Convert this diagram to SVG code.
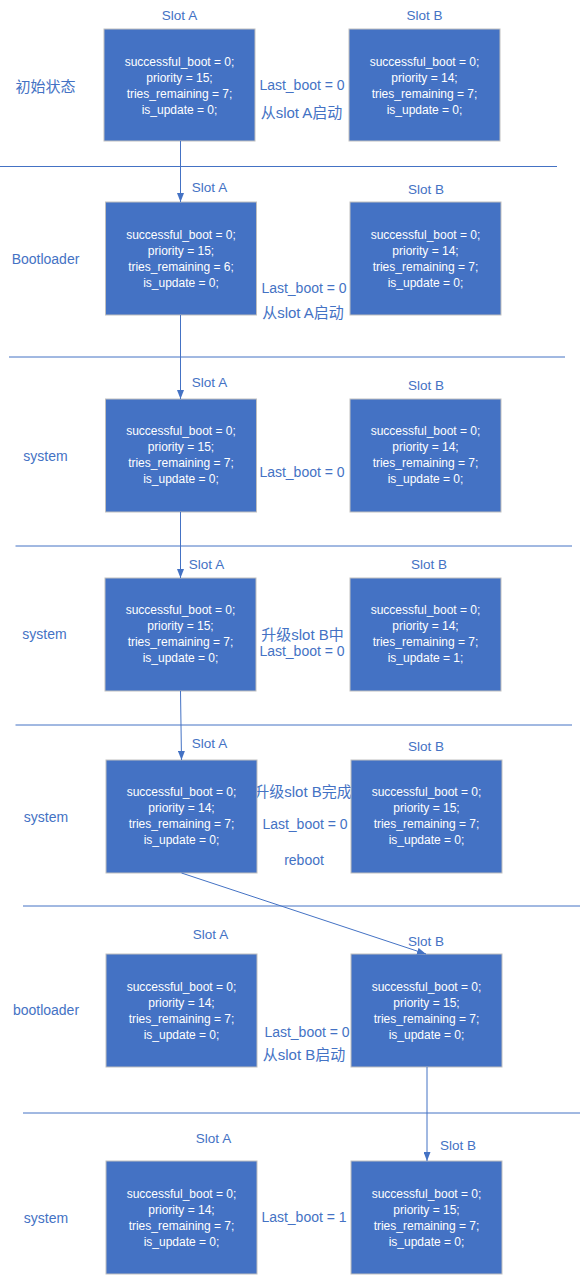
<svg xmlns="http://www.w3.org/2000/svg" width="581" height="1276" viewBox="0 0 581 1276">
<style>
.box{fill:#4472C4;stroke:#BFBFBF;stroke-width:1}
.b{font-family:"Liberation Sans",Arial,sans-serif;font-size:12px;fill:#ffffff;text-anchor:middle;dominant-baseline:central}
.s{font-family:"Liberation Sans",Arial,sans-serif;font-size:13.5px;fill:#4472C4;text-anchor:middle;dominant-baseline:central}
.l{font-family:"Liberation Sans",Arial,sans-serif;font-size:14px;fill:#4472C4;text-anchor:middle;dominant-baseline:central}
.c{font-family:"Liberation Sans","Noto Sans CJK SC",sans-serif;font-size:15px;fill:#4472C4;text-anchor:middle;dominant-baseline:central}
.div{stroke:#4472C4;stroke-width:1;fill:none}
.con{stroke:#4472C4;stroke-width:1;fill:none;marker-end:url(#arr)}
</style>
<defs>
<marker id="arr" markerUnits="userSpaceOnUse" markerWidth="9" markerHeight="7" refX="9" refY="3.5" orient="auto">
<path d="M0,0 L9,3.5 L0,7 z" fill="#4472C4"/>
</marker>
</defs>
<rect width="581" height="1276" fill="#ffffff"/>
<g id="dividers">
<line class="div" x1="0" y1="166.5" x2="557" y2="166.5"/>
<line class="div" x1="9" y1="357" x2="565" y2="357"/>
<line class="div" x1="15.5" y1="546" x2="572" y2="546"/>
<line class="div" x1="15.5" y1="725" x2="572" y2="725"/>
<line class="div" x1="23" y1="906" x2="580" y2="906"/>
<line class="div" x1="23" y1="1113" x2="580" y2="1113"/>
</g>
<g id="row-labels">
<text class="c" x="45.5" y="86">初始状态</text>
<text class="l" x="45.5" y="259">Bootloader</text>
<text class="l" x="45.5" y="456">system</text>
<text class="l" x="44.5" y="634">system</text>
<text class="l" x="46" y="817">system</text>
<text class="l" x="46" y="1010">bootloader</text>
<text class="l" x="46" y="1218">system</text>
</g>
<g id="mid-labels">
<text class="l" x="302" y="85">Last_boot = 0</text>
<text class="c" x="301.5" y="112">从slot A启动</text>
<text class="l" x="304" y="288">Last_boot = 0</text>
<text class="c" x="303" y="312">从slot A启动</text>
<text class="l" x="302" y="472">Last_boot = 0</text>
<text class="c" x="302.5" y="634">升级slot B中</text>
<text class="l" x="302" y="651">Last_boot = 0</text>
<text class="c" x="303" y="791">升级slot B完成</text>
<text class="l" x="305" y="824">Last_boot = 0</text>
<text class="l" x="304" y="860">reboot</text>
<text class="l" x="307" y="1032">Last_boot = 0</text>
<text class="c" x="304" y="1054">从slot B启动</text>
<text class="l" x="304" y="1217">Last_boot = 1</text>
</g>
<g id="slot-labels">
<text class="s" x="179.5" y="15">Slot A</text>
<text class="s" x="424.5" y="15">Slot B</text>
<text class="s" x="209.5" y="187">Slot A</text>
<text class="s" x="426" y="189">Slot B</text>
<text class="s" x="209.5" y="382">Slot A</text>
<text class="s" x="426" y="385">Slot B</text>
<text class="s" x="206.5" y="564">Slot A</text>
<text class="s" x="429" y="564">Slot B</text>
<text class="s" x="209.5" y="743">Slot A</text>
<text class="s" x="426" y="746">Slot B</text>
<text class="s" x="210.5" y="934">Slot A</text>
<text class="s" x="426" y="941">Slot B</text>
<text class="s" x="213.5" y="1138">Slot A</text>
<text class="s" x="458" y="1145">Slot B</text>
</g>
<g id="r1a">
<rect class="box" x="104" y="29" width="151" height="112"/>
<text class="b" x="179.5" y="61.5">successful_boot = 0;</text>
<text class="b" x="179.5" y="77.5">priority = 15;</text>
<text class="b" x="179.5" y="93.5">tries_remaining = 7;</text>
<text class="b" x="179.5" y="109.5">is_update = 0;</text>
</g>
<g id="r1b">
<rect class="box" x="349" y="29" width="151" height="112"/>
<text class="b" x="424.5" y="61.5">successful_boot = 0;</text>
<text class="b" x="424.5" y="77.5">priority = 14;</text>
<text class="b" x="424.5" y="93.5">tries_remaining = 7;</text>
<text class="b" x="424.5" y="109.5">is_update = 0;</text>
</g>
<g id="r2a">
<rect class="box" x="105.5" y="202" width="151" height="113"/>
<text class="b" x="181" y="235">successful_boot = 0;</text>
<text class="b" x="181" y="251">priority = 15;</text>
<text class="b" x="181" y="267">tries_remaining = 6;</text>
<text class="b" x="181" y="283">is_update = 0;</text>
</g>
<g id="r2b">
<rect class="box" x="350" y="202" width="151" height="113"/>
<text class="b" x="425.5" y="235">successful_boot = 0;</text>
<text class="b" x="425.5" y="251">priority = 14;</text>
<text class="b" x="425.5" y="267">tries_remaining = 7;</text>
<text class="b" x="425.5" y="283">is_update = 0;</text>
</g>
<g id="r3a">
<rect class="box" x="105.5" y="399" width="151" height="113"/>
<text class="b" x="181" y="431">successful_boot = 0;</text>
<text class="b" x="181" y="447">priority = 15;</text>
<text class="b" x="181" y="463">tries_remaining = 7;</text>
<text class="b" x="181" y="479">is_update = 0;</text>
</g>
<g id="r3b">
<rect class="box" x="350" y="399" width="151" height="113"/>
<text class="b" x="425.5" y="431">successful_boot = 0;</text>
<text class="b" x="425.5" y="447">priority = 14;</text>
<text class="b" x="425.5" y="463">tries_remaining = 7;</text>
<text class="b" x="425.5" y="479">is_update = 0;</text>
</g>
<g id="r4a">
<rect class="box" x="105" y="578" width="151" height="113"/>
<text class="b" x="180.5" y="610">successful_boot = 0;</text>
<text class="b" x="180.5" y="626">priority = 15;</text>
<text class="b" x="180.5" y="642">tries_remaining = 7;</text>
<text class="b" x="180.5" y="658">is_update = 0;</text>
</g>
<g id="r4b">
<rect class="box" x="350" y="578" width="151" height="113"/>
<text class="b" x="425.5" y="610">successful_boot = 0;</text>
<text class="b" x="425.5" y="626">priority = 14;</text>
<text class="b" x="425.5" y="642">tries_remaining = 7;</text>
<text class="b" x="425.5" y="658">is_update = 1;</text>
</g>
<g id="r5a">
<rect class="box" x="106" y="760" width="151" height="113"/>
<text class="b" x="181.5" y="792">successful_boot = 0;</text>
<text class="b" x="181.5" y="808">priority = 14;</text>
<text class="b" x="181.5" y="824">tries_remaining = 7;</text>
<text class="b" x="181.5" y="840">is_update = 0;</text>
</g>
<g id="r5b">
<rect class="box" x="351" y="760" width="151" height="113"/>
<text class="b" x="426.5" y="792">successful_boot = 0;</text>
<text class="b" x="426.5" y="808">priority = 15;</text>
<text class="b" x="426.5" y="824">tries_remaining = 7;</text>
<text class="b" x="426.5" y="840">is_update = 0;</text>
</g>
<g id="r6a">
<rect class="box" x="106" y="954" width="151" height="113"/>
<text class="b" x="181.5" y="987">successful_boot = 0;</text>
<text class="b" x="181.5" y="1003">priority = 14;</text>
<text class="b" x="181.5" y="1019">tries_remaining = 7;</text>
<text class="b" x="181.5" y="1035">is_update = 0;</text>
</g>
<g id="r6b">
<rect class="box" x="351" y="954" width="151" height="113"/>
<text class="b" x="426.5" y="987">successful_boot = 0;</text>
<text class="b" x="426.5" y="1003">priority = 15;</text>
<text class="b" x="426.5" y="1019">tries_remaining = 7;</text>
<text class="b" x="426.5" y="1035">is_update = 0;</text>
</g>
<g id="r7a">
<rect class="box" x="106" y="1161" width="151" height="113"/>
<text class="b" x="181.5" y="1194">successful_boot = 0;</text>
<text class="b" x="181.5" y="1210">priority = 14;</text>
<text class="b" x="181.5" y="1226">tries_remaining = 7;</text>
<text class="b" x="181.5" y="1242">is_update = 0;</text>
</g>
<g id="r7b">
<rect class="box" x="351" y="1161" width="151" height="113"/>
<text class="b" x="426.5" y="1194">successful_boot = 0;</text>
<text class="b" x="426.5" y="1210">priority = 15;</text>
<text class="b" x="426.5" y="1226">tries_remaining = 7;</text>
<text class="b" x="426.5" y="1242">is_update = 0;</text>
</g>
<g id="connectors">
<path class="con" d="M180.5,141 V202"/>
<path class="con" d="M180.5,315 V399"/>
<path class="con" d="M180.5,512 V578"/>
<path class="con" d="M180.5,691 L181.5,760"/>
<path class="con" d="M181.5,873 L426,954"/>
<path class="con" d="M427,1067 V1161"/>
</g>
</svg>
